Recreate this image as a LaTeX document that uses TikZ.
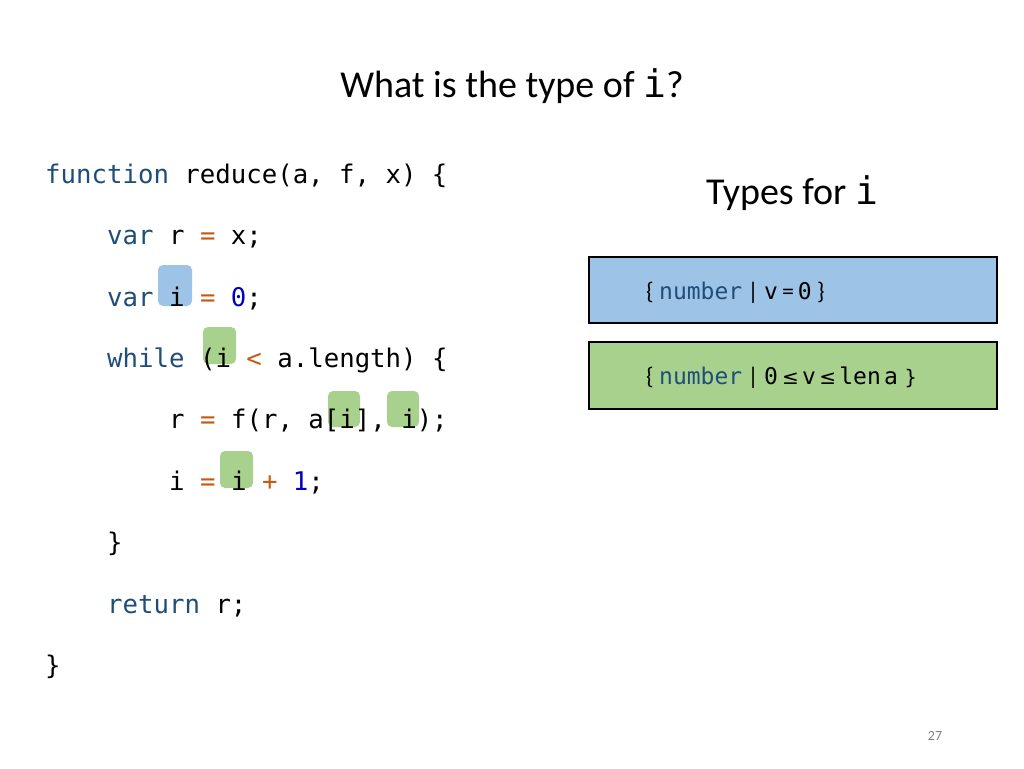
\documentclass[tikz,border=0pt]{standalone}
\usepackage{fontspec}
\setmainfont{Carlito}
\setmonofont{DejaVu Sans Mono}
\begin{document}
\begin{tikzpicture}[x=1pt,y=-1pt,
  code/.style={anchor=base west,inner sep=0pt,font=\fontsize{25.7}{30}\ttfamily},
  hl/.style={rounded corners=5pt,draw=none},
  tbox/.style={draw=black,line width=2.5pt},
  ttxt/.style={anchor=base west,inner sep=0pt,font=\fontsize{24}{28}\selectfont}]
\definecolor{kw}{HTML}{1F4E79}
\definecolor{op}{HTML}{C55A11}
\definecolor{nm}{HTML}{0000C0}
\definecolor{hb}{HTML}{9DC3E6}
\definecolor{hg}{HTML}{A9D18E}
\useasboundingbox (0,0) rectangle (1024,768);
\fill[white] (0,0) rectangle (1024,768);
% highlights
\fill[hb,hl] (158,265) rectangle (192,306);
\fill[hg,hl] (203,327) rectangle (236,364);
\fill[hg,hl] (328,391) rectangle (360,427);
\fill[hg,hl] (387,391) rectangle (419,427);
\fill[hg,hl] (220,451) rectangle (253,488);
\node[anchor=base,inner sep=0pt,font=\fontsize{38}{44}\selectfont] (title) at (512,97) {What is the type of \texttt{i}?};
\node[code] (l1) at (45,183) {\textcolor{kw}{function} reduce(a, f, x) \{};
\node[code] (l2) at (107,244) {\textcolor{kw}{var} r \textcolor{op}{=} x;};
\node[code] (l3) at (107,306) {\textcolor{kw}{var} i \textcolor{op}{=} \textcolor{nm}{0};};
\node[code] (l4) at (107,367) {\textcolor{kw}{while} (i \textcolor{op}{<} a.length) \{};
\node[code] (l5) at (169,428) {r \textcolor{op}{=} f(r, a[i], i);};
\node[code] (l6) at (169,490) {i \textcolor{op}{=} i \textcolor{op}{+} \textcolor{nm}{1};};
\node[code] (l7) at (107,551) {\}};
\node[code] (l8) at (107,613) {\textcolor{kw}{return} r;};
\node[code] (l9) at (45,674) {\}};
\node[anchor=base,inner sep=0pt,font=\fontsize{38}{44}\selectfont] (types) at (792,204) {Types for \texttt{i}};
\draw[tbox,fill=hb] (589,257) rectangle (997,323);
\draw[tbox,fill=hg] (589,342) rectangle (997,409);
\node[ttxt] (t1) at (646,299) {\{ \texttt{\fontsize{23}{28}\selectfont\textcolor{kw}{number}} | \texttt{\fontsize{23}{28}\selectfont v}\,=\,\texttt{\fontsize{23}{28}\selectfont 0} \}};
\node[ttxt] (t2) at (646,384) {\{ \texttt{\fontsize{23}{28}\selectfont\textcolor{kw}{number}} | \texttt{\fontsize{23}{28}\selectfont 0}\,\fontspec{DejaVu Sans}\fontsize{20}{28}\selectfont≤\,\texttt{\fontsize{23}{28}\selectfont v}\,≤\,\texttt{\fontsize{23}{28}\selectfont len}\,\texttt{\fontsize{23}{28}\selectfont a} \}};
\node[anchor=base,inner sep=0pt,text=gray,font=\fontsize{14}{16}\selectfont] (pg) at (935,740) {27};
\end{tikzpicture}
\end{document}
